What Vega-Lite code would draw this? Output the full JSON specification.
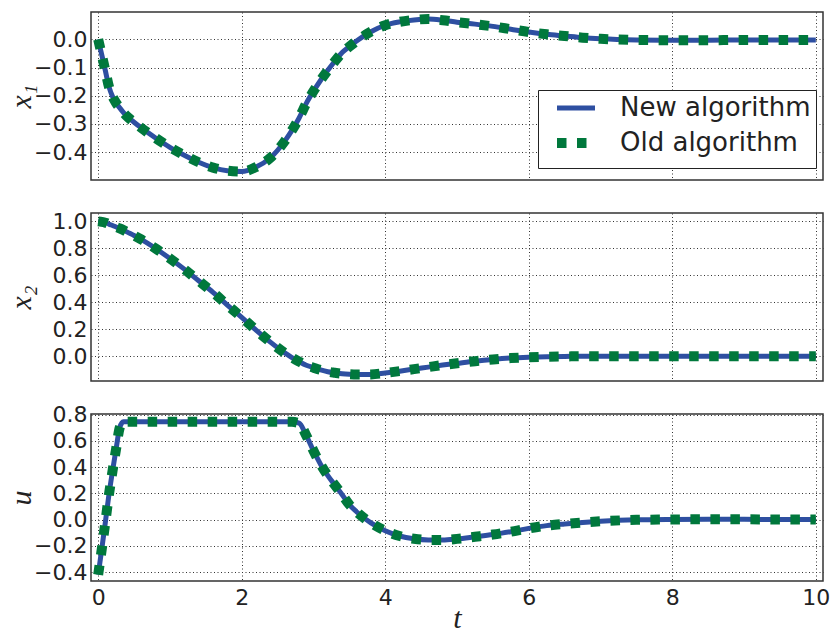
{
  "$schema": "https://vega.github.io/schema/vega-lite/v6.json",
  "padding": {"left": 5, "top": -2, "right": 0, "bottom": 0},
  "background": "white",
  "spacing": 33,
  "bounds": "flush",
  "data": {"values": [
    {"t": 0, "x1": 0, "x2": 1.0, "u": -0.42},
    {"t": 0.05, "x1": -0.055, "x2": 0.996, "u": -0.225},
    {"t": 0.1, "x1": -0.111, "x2": 0.99, "u": -0.02},
    {"t": 0.15, "x1": -0.168, "x2": 0.98, "u": 0.19},
    {"t": 0.2, "x1": -0.203, "x2": 0.969, "u": 0.37},
    {"t": 0.25, "x1": -0.226, "x2": 0.958, "u": 0.54},
    {"t": 0.3, "x1": -0.243, "x2": 0.948, "u": 0.7},
    {"t": 0.35, "x1": -0.259, "x2": 0.936, "u": 0.745},
    {"t": 0.4, "x1": -0.273, "x2": 0.922, "u": 0.745},
    {"t": 0.5, "x1": -0.294, "x2": 0.895, "u": 0.745},
    {"t": 0.6, "x1": -0.314, "x2": 0.866, "u": 0.745},
    {"t": 0.8, "x1": -0.35, "x2": 0.799, "u": 0.745},
    {"t": 1.0, "x1": -0.383, "x2": 0.725, "u": 0.745},
    {"t": 1.2, "x1": -0.411, "x2": 0.646, "u": 0.745},
    {"t": 1.4, "x1": -0.436, "x2": 0.56, "u": 0.745},
    {"t": 1.6, "x1": -0.455, "x2": 0.474, "u": 0.745},
    {"t": 1.8, "x1": -0.466, "x2": 0.38, "u": 0.745},
    {"t": 2.0, "x1": -0.469, "x2": 0.289, "u": 0.745},
    {"t": 2.2, "x1": -0.453, "x2": 0.194, "u": 0.745},
    {"t": 2.4, "x1": -0.42, "x2": 0.105, "u": 0.745},
    {"t": 2.6, "x1": -0.361, "x2": 0.025, "u": 0.745},
    {"t": 2.7, "x1": -0.323, "x2": -0.009, "u": 0.745},
    {"t": 2.8, "x1": -0.279, "x2": -0.039, "u": 0.735},
    {"t": 2.9, "x1": -0.227, "x2": -0.066, "u": 0.64},
    {"t": 3.0, "x1": -0.184, "x2": -0.084, "u": 0.525},
    {"t": 3.1, "x1": -0.145, "x2": -0.101, "u": 0.42},
    {"t": 3.2, "x1": -0.11, "x2": -0.114, "u": 0.335},
    {"t": 3.3, "x1": -0.077, "x2": -0.122, "u": 0.262},
    {"t": 3.4, "x1": -0.047, "x2": -0.129, "u": 0.19},
    {"t": 3.5, "x1": -0.026, "x2": -0.133, "u": 0.114},
    {"t": 3.6, "x1": -0.006, "x2": -0.135, "u": 0.06},
    {"t": 3.8, "x1": 0.027, "x2": -0.134, "u": -0.025},
    {"t": 4.0, "x1": 0.05, "x2": -0.123, "u": -0.085},
    {"t": 4.2, "x1": 0.062, "x2": -0.11, "u": -0.125},
    {"t": 4.4, "x1": 0.069, "x2": -0.095, "u": -0.146},
    {"t": 4.6, "x1": 0.072, "x2": -0.08, "u": -0.155},
    {"t": 4.8, "x1": 0.068, "x2": -0.065, "u": -0.155},
    {"t": 5.0, "x1": 0.061, "x2": -0.052, "u": -0.147},
    {"t": 5.25, "x1": 0.054, "x2": -0.036, "u": -0.131},
    {"t": 5.5, "x1": 0.046, "x2": -0.023, "u": -0.114},
    {"t": 5.75, "x1": 0.036, "x2": -0.013, "u": -0.092},
    {"t": 6.0, "x1": 0.026, "x2": -0.007, "u": -0.067},
    {"t": 6.25, "x1": 0.018, "x2": -0.003, "u": -0.046},
    {"t": 6.5, "x1": 0.012, "x2": -0.001, "u": -0.033},
    {"t": 6.75, "x1": 0.006, "x2": 0.0, "u": -0.022},
    {"t": 7.0, "x1": 0.002, "x2": 0.0, "u": -0.013},
    {"t": 7.5, "x1": -0.002, "x2": 0.0, "u": -0.002},
    {"t": 8.0, "x1": -0.003, "x2": 0.0, "u": 0.001},
    {"t": 8.5, "x1": -0.003, "x2": 0.0, "u": 0.002},
    {"t": 9.0, "x1": -0.002, "x2": 0.0, "u": 0.002},
    {"t": 9.5, "x1": -0.002, "x2": 0.0, "u": 0.001},
    {"t": 10.0, "x1": -0.002, "x2": 0.0, "u": 0.001}
  ]},
  "resolve": {"scale": {"color": "independent"}, "legend": {"color": "independent"}},
  "vconcat": [
    {
      "width": 732, "height": 168,
      "layer": [
        {
          "mark": {"type": "line", "strokeWidth": 5, "interpolate": "monotone"},
          "encoding": {
            "x": {"field": "t", "type": "quantitative", "scale": {"domain": [-0.1, 10.1], "nice": false, "zero": false},
                  "axis": {"title": null, "labels": false, "values": [0, 2, 4, 6, 8, 10], "tickCount": 20}},
            "y": {"field": "x1", "type": "quantitative", "scale": {"domain": [-0.499, 0.097], "nice": false, "zero": false},
                  "axis": {"title": "x₁", "values": [-0.4, -0.3, -0.2, -0.1, 0], "tickCount": 20, "format": ".1f", "labelPadding": 4,
                           "titleX": -70, "titleY": 84, "titleAngle": 270, "titleBaseline": "middle", "titleAlign": "center"}},
            "color": {"datum": "New algorithm", "type": "nominal",
                      "scale": {"domain": ["New algorithm", "Old algorithm"], "range": ["#2e4fa1", "#00783c"]},
                      "legend": {"title": null, "orient": "none", "legendX": 447, "legendY": 78,
                                 "fillColor": "white", "strokeColor": "#222", "padding": 5,
                                 "labelFont": "DejaVu Sans", "labelFontSize": 26, "labelColor": "#222", "labelLimit": 400,
                                 "labelOffset": 31, "symbolType": "stroke", "symbolSize": 1444, "rowPadding": 2,
                                 "symbolOffset": 20,
                                 "encode": {"symbols": {"update": {
                                   "strokeWidth": {"signal": "datum.value === 'Old algorithm' ? 10 : 5"},
                                   "strokeDash": {"signal": "datum.value === 'Old algorithm' ? [9.5, 10.5] : [1, 0]"}}}}}}
          }
        },
        {
          "mark": {"type": "line", "strokeWidth": 10, "strokeDash": [9.5, 10.5], "strokeCap": "butt", "interpolate": "monotone"},
          "encoding": {
            "x": {"field": "t", "type": "quantitative"},
            "y": {"field": "x1", "type": "quantitative"},
            "color": {"datum": "Old algorithm", "type": "nominal"}
          }
        }
      ]
    },
    {
      "width": 732, "height": 168,
      "layer": [
        {
          "mark": {"type": "line", "strokeWidth": 5, "color": "#2e4fa1", "interpolate": "monotone"},
          "encoding": {
            "x": {"field": "t", "type": "quantitative", "scale": {"domain": [-0.1, 10.1], "nice": false, "zero": false},
                  "axis": {"title": null, "labels": false, "values": [0, 2, 4, 6, 8, 10], "tickCount": 20}},
            "y": {"field": "x2", "type": "quantitative", "scale": {"domain": [-0.183, 1.062], "nice": false, "zero": false},
                  "axis": {"title": "x₂", "values": [0, 0.2, 0.4, 0.6, 0.8, 1.0], "tickCount": 20, "format": ".1f", "labelPadding": 4,
                           "titleX": -70, "titleY": 84, "titleAngle": 270, "titleBaseline": "middle", "titleAlign": "center"}}
          }
        },
        {
          "mark": {"type": "line", "strokeWidth": 10, "strokeDash": [9.5, 10.5], "strokeCap": "butt", "color": "#00783c", "interpolate": "monotone"},
          "encoding": {
            "x": {"field": "t", "type": "quantitative"},
            "y": {"field": "x2", "type": "quantitative"}
          }
        }
      ]
    },
    {
      "width": 732, "height": 167,
      "layer": [
        {
          "mark": {"type": "line", "strokeWidth": 5, "color": "#2e4fa1", "interpolate": "monotone"},
          "encoding": {
            "x": {"field": "t", "type": "quantitative", "scale": {"domain": [-0.1, 10.1], "nice": false, "zero": false},
                  "axis": {"title": "t", "values": [0, 2, 4, 6, 8, 10], "tickCount": 20, "format": "d", "labelPadding": 6,
                           "titleX": 366, "titleY": 46, "titleBaseline": "alphabetic", "titleAlign": "center"}},
            "y": {"field": "u", "type": "quantitative", "scale": {"domain": [-0.468, 0.805], "nice": false, "zero": false},
                  "axis": {"title": "u", "values": [-0.4, -0.2, 0, 0.2, 0.4, 0.6, 0.8], "tickCount": 20, "format": ".1f", "labelPadding": 4,
                           "titleX": -70, "titleY": 83.5, "titleAngle": 270, "titleBaseline": "middle", "titleAlign": "center"}}
          }
        },
        {
          "mark": {"type": "line", "strokeWidth": 10, "strokeDash": [9.5, 10.5], "strokeCap": "butt", "color": "#00783c", "interpolate": "monotone"},
          "encoding": {
            "x": {"field": "t", "type": "quantitative"},
            "y": {"field": "u", "type": "quantitative"}
          }
        }
      ]
    }
  ],
  "config": {
    "view": {"stroke": "#333", "strokeWidth": 1.5},
    "axis": {
      "labelFont": "DejaVu Sans", "labelFontSize": 22, "labelColor": "#222", "labelOverlap": false,
      "grid": true, "gridColor": "#333", "gridDash": [1, 2.5], "gridWidth": 1, "gridOpacity": 1,
      "domain": false, "ticks": false,
      "titleFont": "Liberation Serif", "titleFontStyle": "italic", "titleFontWeight": "normal",
      "titleFontSize": 30, "titleColor": "#222"
    }
  }
}
